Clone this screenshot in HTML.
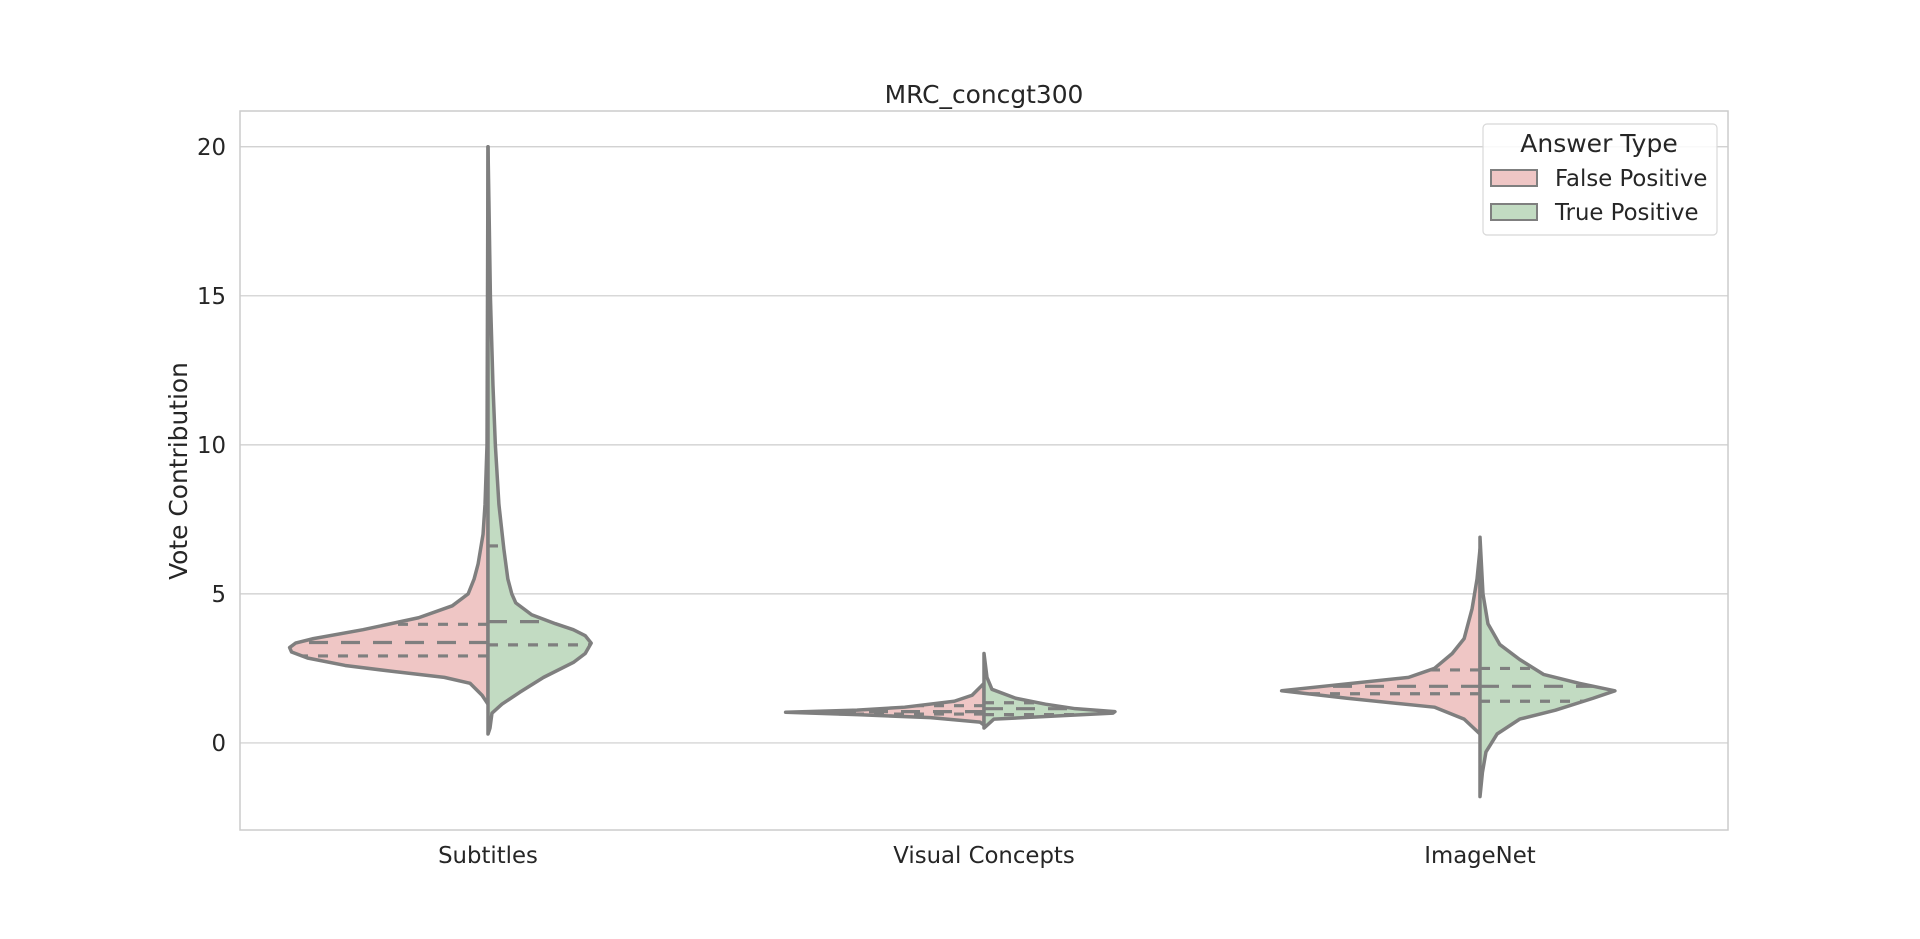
<!DOCTYPE html>
<html><head><meta charset="utf-8"><style>
html,body{margin:0;padding:0;background:#fff;}
svg text{font-family:"DejaVu Sans","Liberation Sans",sans-serif;fill:#262626;}
</style></head><body>
<svg id="chart" width="1920" height="934" xmlns="http://www.w3.org/2000/svg"></svg>
<script>
const categories = ["Subtitles", "Visual Concepts", "ImageNet"];
const seriesNames = ["False Positive", "True Positive"];
const yTicks = [0, 5, 10, 15, 20];
// density profiles: [value, relative half-width]
const fpSubtitles = [[1.3,0],[1.6,0.03],[2.0,0.09],[2.2,0.22],[2.4,0.48],[2.6,0.72],[2.85,0.91],[3.05,0.99],[3.2,1.0],[3.35,0.97],[3.5,0.88],[3.8,0.63],[4.2,0.35],[4.6,0.18],[5.0,0.10],[5.5,0.07],[6.0,0.05],[7.0,0.025],[8.0,0.015],[9.0,0.01],[10,0.005],[20,0]];
const tpSubtitles = [[0.3,0],[0.5,0.01],[1.0,0.02],[1.3,0.07],[1.7,0.16],[2.2,0.28],[2.7,0.43],[3.0,0.49],[3.35,0.52],[3.6,0.49],[3.8,0.43],[4.0,0.34],[4.3,0.22],[4.7,0.14],[5.0,0.12],[5.5,0.10],[6.5,0.08],[8.0,0.055],[10,0.037],[12,0.025],[15,0.012],[18,0.005],[20,0]];
const fpVisual = [[0.6,0],[0.7,0.02],[0.85,0.27],[0.95,0.64],[1.03,1.0],[1.1,0.64],[1.2,0.4],[1.4,0.15],[1.6,0.06],[1.9,0.015],[2.0,0]];
const tpVisual = [[0.5,0],[0.8,0.05],[0.9,0.35],[1.0,0.65],[1.05,0.66],[1.15,0.46],[1.3,0.31],[1.5,0.16],[1.8,0.04],[2.2,0.015],[3.0,0]];
const fpImageNet = [[0.3,0],[0.8,0.08],[1.2,0.23],[1.5,0.67],[1.75,1.0],[1.9,0.79],[2.2,0.36],[2.5,0.23],[3.0,0.14],[3.5,0.08],[4.5,0.04],[5.5,0.015],[6.5,0]];
const tpImageNet = [[-1.8,0],[-1.0,0.012],[-0.3,0.03],[0.3,0.086],[0.8,0.2],[1.1,0.38],[1.5,0.57],[1.75,0.68],[2.0,0.5],[2.3,0.32],[2.8,0.2],[3.3,0.1],[4.0,0.04],[5.0,0.015],[6.9,0]];
const fpQuartiles = [[2.92,3.37,3.98],[0.97,1.05,1.25],[1.65,1.9,2.45]];
const tpQuartiles = [[3.29,4.07,6.61],[0.95,1.15,1.35],[1.4,1.9,2.5]];

const svg = document.getElementById('chart');
const NS = 'http://www.w3.org/2000/svg';
const L=240,R=1728,T=111,B=830, yMin=-2.92, yMax=21.2;
const y = v => B - (v - yMin) / (yMax - yMin) * (B - T);
const band = (R - L) / categories.length;
const xc = i => L + band * (i + 0.5);
const halfW = band * 0.4;
function mk(tag, attrs){const e=document.createElementNS(NS,tag);for(const k in attrs)e.setAttribute(k,attrs[k]);svg.appendChild(e);return e;}

mk('rect',{x:0,y:0,width:1920,height:934,fill:'#fff'});
yTicks.forEach(t=>{
  const g=mk('line',{x1:L,x2:R,y1:y(t),y2:y(t),stroke:'#cccccc','stroke-width':1.2});
  
  
  const tx=mk('text',{x:226,y:y(t)+8,'text-anchor':'end','font-size':'22.8'});
  tx.textContent=t;
  
  
});
const frame=mk('rect',{x:L,y:T,width:R-L,height:B-T,fill:'none',stroke:'#cccccc','stroke-width':1.5});



const fps=[fpSubtitles,fpVisual,fpImageNet], tps=[tpSubtitles,tpVisual,tpImageNet];
function widthAt(prof,v){for(let k=0;k<prof.length-1;k++){const a=prof[k],b=prof[k+1];if(v>=a[0]&&v<=b[0]){return a[1]+(b[1]-a[1])*(v-a[0])/(b[0]-a[0]);}}return 0;}
function half(i,prof,side,fill,name){
  const cx=xc(i);
  let d='M'+cx+','+y(prof[0][0]);
  prof.forEach(p=>{d+=' L'+(cx+side*p[1]*halfW)+','+y(p[0]);});
  d+=' L'+cx+','+y(prof[prof.length-1][0])+' Z';
  const p=mk('path',{d:d,fill:fill,stroke:'#7f7f7f','stroke-width':3.5,'stroke-linejoin':'round'});
  
  
}
function quart(i,prof,side,qs,name){
  const cx=xc(i);
  qs.forEach((q,j)=>{
    const w=widthAt(prof,q)*halfW;
    const l=mk('line',{x1:cx,x2:cx+side*w,y1:y(q),y2:y(q),stroke:'#7f7f7f','stroke-width':3.2,'stroke-dasharray':j===1?'19,13':'10,10'});
    
    
  });
}
categories.forEach((c,i)=>{
  half(i,fps[i],-1,'#efc6c5','violin-fp-'+i);
  half(i,tps[i],1,'#c2dbc2','violin-tp-'+i);
  quart(i,fps[i],-1,fpQuartiles[i],'quartile-fp-'+i);
  quart(i,tps[i],1,tpQuartiles[i],'quartile-tp-'+i);
  const t=mk('text',{x:xc(i),y:863,'text-anchor':'middle','font-size':'22.8'});
  t.textContent=c;
  
  
});
</script>
<svg style="position:absolute;left:0;top:0" width="1920" height="934" xmlns="http://www.w3.org/2000/svg">
<text x="984" y="103" text-anchor="middle" font-size="24.9">MRC_concgt300</text>
<text x="0" y="0" transform="translate(187,471) rotate(-90)" text-anchor="middle" font-size="24.9">Vote Contribution</text>
<g>
<rect x="1483" y="124" width="234" height="111" rx="4" fill="#fff" fill-opacity="0.85" stroke="#d8d8d8" stroke-width="1.2"/>
<text x="1599" y="152" text-anchor="middle" font-size="25">Answer Type</text>
<rect x="1491" y="170" width="46" height="16" fill="#efc6c5" stroke="#7f7f7f" stroke-width="2"/>
<text x="1555" y="186" font-size="22.8">False Positive</text>
<rect x="1491" y="204" width="46" height="16" fill="#c2dbc2" stroke="#7f7f7f" stroke-width="2"/>
<text x="1555" y="220" font-size="22.8">True Positive</text>
</g>
</svg>
</body></html>
